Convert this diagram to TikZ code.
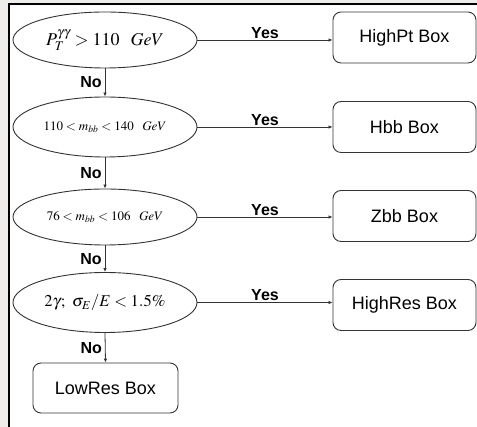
\documentclass[tikz,border=0pt]{standalone}
\usepackage{mathptmx}
\usepackage{fontspec}
\setsansfont{Liberation Sans}
\usetikzlibrary{shapes.geometric,arrows.meta}
\definecolor{bggray}{HTML}{EEEDE9}
\definecolor{linegray}{HTML}{333333}
\begin{document}
\begin{tikzpicture}[x=1pt,y=1pt,
  cond/.style={draw=linegray,line width=0.9pt,ellipse,minimum width=184pt,inner sep=0pt},
  outbox/.style={draw=linegray,line width=0.9pt,rounded corners=8pt,minimum width=143pt,minimum height=51pt,inner sep=0pt,font=\sffamily\fontsize{18}{20}\selectfont},
  conn/.style={draw=linegray,line width=0.8pt,-{Latex[length=4pt,width=3.5pt]}},
  lbl/.style={font=\sffamily\bfseries\fontsize{16}{18}\selectfont,inner sep=1pt}]
\useasboundingbox (0,0) rectangle (477,427);
\fill[bggray] (0,0) rectangle (8,427);
\fill[bggray] (0,424) rectangle (477,427);
\fill[white] (9,0) rectangle (477,423);
\draw[black,line width=2.5pt] (9,0) -- (9,422.8) -- (477,422.8);

\node[cond,minimum height=56pt] (e1) at (105,387) {\fontsize{18}{20}\selectfont $P_T^{\gamma\gamma} > 110\ \ GeV$};
\node[cond,minimum height=60pt] (e2) at (105,300) {\fontsize{13}{15}\selectfont $110 < m_{bb} < 140\ \ GeV$};
\node[cond,minimum height=56pt] (e3) at (105,210) {\fontsize{13}{15}\selectfont $76 < m_{bb} < 106\ \ GeV$};
\node[cond,minimum height=60pt] (e4) at (105,124.5) {\fontsize{16.5}{18}\selectfont $2\gamma;\ \sigma_E/E < 1.5\%$};
\node[outbox,minimum width=145pt,minimum height=50pt] (low) at (105.5,39) {LowRes Box};

\node[outbox] (b1) at (404.5,389.5) {HighPt Box};
\node[outbox] (b2) at (404.5,300) {Hbb Box};
\node[outbox] (b3) at (404.5,211) {Zbb Box};
\node[outbox] (b4) at (404.5,122) {HighRes Box};

\foreach \a/\b in {e1/e2,e2/e3,e3/e4,e4/low}{
  \draw[conn] (\a.south) -- node[lbl,anchor=east,xshift=-2pt]{No} (\b.north);
}
\foreach \a/\b in {e1/b1,e2/b2,e3/b3,e4/b4}{
  \draw[conn] (\a.east) -- node[lbl,anchor=south,yshift=0pt]{Yes} (\a.east -| \b.west);
}
\end{tikzpicture}
\end{document}
